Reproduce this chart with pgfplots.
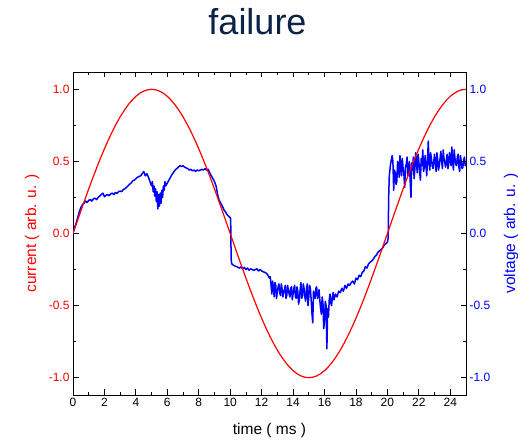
\documentclass[border=0pt]{standalone}
\usepackage{fontspec}
\setmainfont{Liberation Sans}
\usepackage{pgfplots}
\pgfplotsset{compat=1.18}
\definecolor{titlecol}{RGB}{10,35,70}
\definecolor{cred}{RGB}{255,0,0}
\definecolor{cblue}{RGB}{0,0,255}
\begin{document}
\begin{tikzpicture}
\pgfplotsset{
  common/.style={
    scale only axis, width=393bp, height=323bp,
    at={(0,0)}, anchor=south west,
    xmin=0, xmax=25, ymin=-1.12, ymax=1.12,
    xtick={0,2,...,24}, ytick={-1,-0.5,0,0.5,1},
    minor x tick num=1, minor y tick num=1,
    major tick length=5.5bp, minor tick length=3bp,
    tick align=inside,
    /pgf/number format/assume math mode=true,
    tick label style={font=\fontsize{12bp}{14bp}\selectfont},
    yticklabel style={/pgf/number format/fixed, /pgf/number format/fixed zerofill, /pgf/number format/precision=1},
    label style={font=\fontsize{15.5bp}{18bp}\selectfont},
  }
}
\begin{axis}[common,
  axis line style={line width=0.8bp},
  every tick/.style={black, line width=0.8bp},
  yticklabel style={text=cred},
  xlabel={time ( ms )},
  xlabel style={at={(axis description cs:0.5,-0.1238)}, anchor=base},
  ylabel={current ( arb. u. )},
  ylabel style={at={(axis description cs:-0.1043,0.5)}, anchor=center, text=cred},
]
\addplot[cblue, line width=1.5bp, no markers, line join=round] coordinates {
(0.0,0.00) (0.1,0.04) (0.2,0.07) (0.3,0.11) (0.4,0.15) (0.5,0.18) (0.6,0.20) (0.7,0.21) (0.8,0.225) (0.9,0.215)
(1.0,0.23) (1.1,0.235) (1.2,0.225) (1.3,0.24) (1.4,0.245) (1.5,0.235) (1.6,0.25) (1.7,0.26) (1.8,0.27) (1.9,0.28)
(2.0,0.255) (2.1,0.265) (2.2,0.27) (2.3,0.262) (2.4,0.275) (2.5,0.28) (2.6,0.27) (2.7,0.285) (2.8,0.278) (2.9,0.29)
(3.0,0.295) (3.1,0.29) (3.2,0.305) (3.3,0.31) (3.4,0.32) (3.5,0.33) (3.6,0.342) (3.7,0.35) (3.8,0.365) (3.9,0.37)
(4.0,0.38) (4.1,0.39) (4.2,0.395) (4.3,0.40) (4.4,0.415) (4.5,0.43) (4.6,0.40) (4.7,0.415) (4.8,0.39) (4.9,0.36)
(5.0,0.33) (5.05,0.36) (5.1,0.29) (5.15,0.33) (5.2,0.26) (5.25,0.31) (5.3,0.22) (5.35,0.29) (5.4,0.17) (5.45,0.27)
(5.5,0.19) (5.55,0.28) (5.6,0.21) (5.65,0.30) (5.7,0.25) (5.75,0.33) (5.8,0.30) (5.85,0.36) (5.9,0.33) (6.0,0.35)
(6.1,0.37) (6.2,0.39) (6.3,0.41) (6.4,0.425) (6.5,0.44) (6.6,0.45) (6.7,0.46) (6.8,0.47) (6.9,0.465) (7.0,0.47)
(7.1,0.46) (7.2,0.455) (7.3,0.45) (7.4,0.44) (7.5,0.445) (7.6,0.435) (7.7,0.44) (7.8,0.43) (7.9,0.44) (8.0,0.435)
(8.1,0.44) (8.2,0.445) (8.3,0.44) (8.4,0.45) (8.5,0.44) (8.6,0.445) (8.7,0.42) (8.8,0.40) (8.9,0.38) (9.0,0.36)
(9.1,0.33) (9.2,0.27) (9.3,0.23) (9.4,0.21) (9.5,0.19) (9.6,0.165) (9.7,0.15) (9.8,0.13) (9.9,0.12) (10.0,0.11)
(10.03,0.10) (10.06,-0.18) (10.1,-0.21) (10.2,-0.22) (10.3,-0.225) (10.4,-0.23) (10.5,-0.235) (10.6,-0.24) (10.7,-0.23) (10.8,-0.245)
(10.9,-0.235) (11.0,-0.25) (11.1,-0.24) (11.2,-0.255) (11.3,-0.245) (11.4,-0.25) (11.5,-0.255) (11.6,-0.25) (11.7,-0.245) (11.8,-0.26)
(11.9,-0.25) (12.0,-0.26) (12.1,-0.265) (12.2,-0.27) (12.3,-0.275) (12.4,-0.29)
(12.5,-0.31) (12.55,-0.30) (12.6,-0.36) (12.65,-0.42) (12.7,-0.33) (12.75,-0.38) (12.8,-0.44) (12.85,-0.34) (12.9,-0.36) (12.95,-0.45)
(13.0,-0.40) (13.05,-0.37) (13.1,-0.35) (13.15,-0.41) (13.2,-0.43) (13.25,-0.35) (13.3,-0.38) (13.35,-0.44) (13.4,-0.41) (13.45,-0.39)
(13.5,-0.36) (13.55,-0.45) (13.6,-0.43) (13.65,-0.36) (13.7,-0.39) (13.75,-0.42) (13.8,-0.44) (13.85,-0.38) (13.9,-0.37) (13.95,-0.46)
(14.0,-0.42) (14.05,-0.38) (14.1,-0.36) (14.15,-0.44) (14.2,-0.45) (14.25,-0.37) (14.3,-0.40) (14.35,-0.49) (14.4,-0.46) (14.45,-0.39)
(14.5,-0.34) (14.55,-0.45) (14.6,-0.43) (14.65,-0.35) (14.7,-0.38) (14.75,-0.44) (14.8,-0.47) (14.85,-0.39) (14.9,-0.35) (14.95,-0.50)
(15.0,-0.44) (15.05,-0.36) (15.1,-0.38) (15.15,-0.46) (15.2,-0.55) (15.25,-0.62) (15.3,-0.40) (15.35,-0.43) (15.4,-0.45) (15.45,-0.38)
(15.5,-0.37) (15.55,-0.45) (15.6,-0.43) (15.65,-0.39) (15.7,-0.46) (15.75,-0.52) (15.8,-0.56) (15.85,-0.44) (15.9,-0.48) (15.95,-0.66)
(16.0,-0.60) (16.05,-0.47) (16.1,-0.50) (16.15,-0.80) (16.2,-0.52) (16.25,-0.58) (16.3,-0.46) (16.35,-0.42) (16.4,-0.48) (16.45,-0.50)
(16.5,-0.44) (16.55,-0.41) (16.6,-0.46) (16.7,-0.42)
(16.8,-0.44) (16.9,-0.40) (17.0,-0.41) (17.1,-0.38) (17.2,-0.40) (17.3,-0.36) (17.4,-0.38) (17.5,-0.35) (17.6,-0.36) (17.7,-0.34)
(17.8,-0.33) (17.9,-0.35) (18.0,-0.31) (18.1,-0.32) (18.2,-0.29) (18.3,-0.30) (18.4,-0.27) (18.5,-0.26) (18.6,-0.23) (18.7,-0.24)
(18.8,-0.21) (18.9,-0.20) (19.0,-0.19) (19.1,-0.18) (19.2,-0.16) (19.3,-0.15) (19.4,-0.13) (19.5,-0.12) (19.6,-0.11) (19.7,-0.10)
(19.8,-0.08) (19.9,-0.07) (20.0,-0.06) (20.05,-0.03) (20.08,0.25) (20.12,0.40) (20.2,0.48)
(20.3,0.54) (20.35,0.50) (20.4,0.30) (20.45,0.44) (20.5,0.42) (20.55,0.34) (20.6,0.36) (20.65,0.50) (20.7,0.47) (20.75,0.39)
(20.8,0.54) (20.85,0.47) (20.9,0.40) (20.95,0.52) (21.0,0.45) (21.05,0.41) (21.1,0.32) (21.15,0.46) (21.2,0.48) (21.25,0.53)
(21.3,0.40) (21.35,0.43) (21.4,0.50) (21.45,0.36) (21.5,0.25) (21.55,0.49) (21.6,0.44) (21.65,0.53) (21.7,0.38) (21.75,0.45)
(21.8,0.56) (21.85,0.49) (21.9,0.42) (21.95,0.55) (22.0,0.50) (22.05,0.43) (22.1,0.37) (22.15,0.52) (22.2,0.47) (22.25,0.58)
(22.3,0.43) (22.35,0.46) (22.4,0.54) (22.45,0.48) (22.5,0.40) (22.55,0.50) (22.6,0.64) (22.65,0.49) (22.7,0.44) (22.75,0.56)
(22.8,0.52) (22.85,0.47) (22.9,0.45) (22.95,0.50) (23.0,0.55) (23.05,0.48) (23.1,0.43) (23.15,0.56) (23.2,0.51) (23.25,0.44)
(23.3,0.47) (23.35,0.52) (23.4,0.57) (23.45,0.50) (23.5,0.45) (23.55,0.58) (23.6,0.52) (23.65,0.49) (23.7,0.46) (23.75,0.51)
(23.8,0.55) (23.85,0.45) (23.9,0.48) (23.95,0.56) (24.0,0.53) (24.05,0.47) (24.1,0.60) (24.15,0.51) (24.2,0.44) (24.25,0.58)
(24.3,0.52) (24.35,0.48) (24.4,0.47) (24.45,0.53) (24.5,0.55) (24.55,0.46) (24.6,0.43) (24.65,0.54) (24.7,0.50) (24.75,0.45)
(24.8,0.46) (24.85,0.51) (24.9,0.53) (24.95,0.47) (25.0,0.49)
};
\end{axis}
\begin{axis}[common,
  axis line style={draw=none},
  xtick=\empty,
  ytick pos=right,
  yticklabel pos=right,
  tick align=inside,
  ytick style={black, line width=0.8bp},
  minor ytick={-0.75,-0.25,0.25,0.75},
  yticklabel style={text=cblue},
  ylabel={voltage ( arb. u. )},
  ylabel style={at={(axis description cs:1.1145,0.5)}, anchor=center, text=cblue},
]
\addplot[cred, line width=1.2bp, no markers] coordinates {
(0,0) (0.25,0.0785) (0.5,0.1564) (0.75,0.2334) (1,0.3090) (1.25,0.3827) (1.5,0.4540) (1.75,0.5225) (2,0.5878) (2.25,0.6494)
(2.5,0.7071) (2.75,0.7604) (3,0.8090) (3.25,0.8526) (3.5,0.8910) (3.75,0.9239) (4,0.9511) (4.25,0.9724) (4.5,0.9877) (4.75,0.9969)
(5,1) (5.25,0.9969) (5.5,0.9877) (5.75,0.9724) (6,0.9511) (6.25,0.9239) (6.5,0.8910) (6.75,0.8526) (7,0.8090) (7.25,0.7604)
(7.5,0.7071) (7.75,0.6494) (8,0.5878) (8.25,0.5225) (8.5,0.4540) (8.75,0.3827) (9,0.3090) (9.25,0.2334) (9.5,0.1564) (9.75,0.0785)
(10,0) (10.25,-0.0785) (10.5,-0.1564) (10.75,-0.2334) (11,-0.3090) (11.25,-0.3827) (11.5,-0.4540) (11.75,-0.5225) (12,-0.5878) (12.25,-0.6494)
(12.5,-0.7071) (12.75,-0.7604) (13,-0.8090) (13.25,-0.8526) (13.5,-0.8910) (13.75,-0.9239) (14,-0.9511) (14.25,-0.9724) (14.5,-0.9877) (14.75,-0.9969)
(15,-1) (15.25,-0.9969) (15.5,-0.9877) (15.75,-0.9724) (16,-0.9511) (16.25,-0.9239) (16.5,-0.8910) (16.75,-0.8526) (17,-0.8090) (17.25,-0.7604)
(17.5,-0.7071) (17.75,-0.6494) (18,-0.5878) (18.25,-0.5225) (18.5,-0.4540) (18.75,-0.3827) (19,-0.3090) (19.25,-0.2334) (19.5,-0.1564) (19.75,-0.0785)
(20,0) (20.25,0.0785) (20.5,0.1564) (20.75,0.2334) (21,0.3090) (21.25,0.3827) (21.5,0.4540) (21.75,0.5225) (22,0.5878) (22.25,0.6494)
(22.5,0.7071) (22.75,0.7604) (23,0.8090) (23.25,0.8526) (23.5,0.8910) (23.75,0.9239) (24,0.9511) (24.25,0.9724) (24.5,0.9877) (24.75,0.9969)
(25,1)
};
\end{axis}
\node[anchor=base, text=titlecol, font=\fontsize{36bp}{40bp}\selectfont] at (184.5bp,360bp) {failure};
\pgfresetboundingbox
\path[use as bounding box] (-73bp,-48bp) rectangle (445bp,395bp);
\end{tikzpicture}
\end{document}
